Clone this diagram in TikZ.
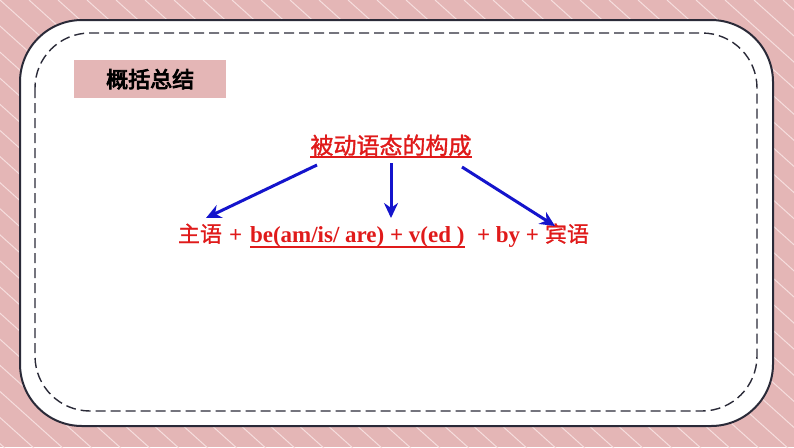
\documentclass[tikz,border=0pt]{standalone}
\usepackage{fontspec}
\setmainfont{Liberation Serif}
\newfontfamily\cjk[FakeBold=0.8]{Noto Sans CJK SC}
\newfontfamily\cjkbold[FakeBold=4]{Noto Sans CJK SC}
\newfontfamily\cjkmed[FakeBold=1.4]{Noto Sans CJK SC}
\usetikzlibrary{arrows.meta,calc}
\definecolor{bgpink}{HTML}{E4B6B6}
\definecolor{stripe}{HTML}{F6DEDE}
\definecolor{frame}{HTML}{2A2A38}
\definecolor{txtred}{HTML}{E01A1A}
\definecolor{arrblue}{HTML}{1414CC}
\tikzset{
  outerframe/.style={draw=frame,line width=2pt,fill=white,rounded corners=62pt},
  innerdash/.style={draw=frame,line width=1.4pt,dash pattern=on 10pt off 5pt,rounded corners=55pt},
  ptr/.style={draw=arrblue,line width=3pt,-{Stealth[length=15pt,width=14pt]}},
  piece/.style={anchor=base west,inner sep=0pt,outer sep=0pt,text=txtred},
  eng/.style={font=\bfseries\fontsize{23}{26}\selectfont},
  han/.style={font=\cjk\fontsize{22}{24}\selectfont},
  uline/.style={draw=txtred,line width=1.3pt}
}
\begin{document}
\begin{tikzpicture}[x=1pt,y=-1pt]
\useasboundingbox (0,0) rectangle (794,447);
\fill[bgpink] (0,0) rectangle (794,447);
\begin{scope}
\clip (0,0) rectangle (794,447);
\foreach \i in {-30,...,30}{
  \draw[stripe,line width=1pt] ({\i*29},0) -- ({\i*29+500},450);
}
\end{scope}
\path[outerframe] (20,20) rectangle (773,426);
\path[innerdash] (35,33) rectangle (757,411);
% title box
\node[fill=bgpink,minimum width=152pt,minimum height=38pt,inner sep=0pt,anchor=north west,
      font=\cjkbold\fontsize{22}{24}\selectfont] (head) at (74,60) {概括总结};
% red title
\node[text=txtred,inner sep=0pt,anchor=base,font=\cjkmed\fontsize{23}{25}\selectfont] (title) at (391,154) {被动语态的构成};
\draw[uline] (310,157) -- (472,157);
% formula line
\node[piece,han] (zy) at (178,242) {主语};
\node[piece,eng] (p1) at (229,242) {+};
\node[piece,eng] (be) at (250,242) {be(am/is/ are) + v(ed )};
\node[piece,eng] (p2) at (477,242) {+ by +};
\node[piece,han] (bin) at (545,242) {宾语};
\draw[uline] ($(be.base west)+(0,5)$) -- ($(be.base east)+(0,5)$);
% arrows
\coordinate (s1) at (317,165);
\coordinate (s2) at (391,163);
\coordinate (s3) at (462,167);
\coordinate (e1) at (206,218);
\coordinate (e2) at (391,218);
\coordinate (e3) at (555,226);
\draw[ptr] (s1) -- (e1);
\draw[ptr] (s2) -- (e2);
\draw[ptr] (s3) -- (e3);
\end{tikzpicture}
\end{document}
